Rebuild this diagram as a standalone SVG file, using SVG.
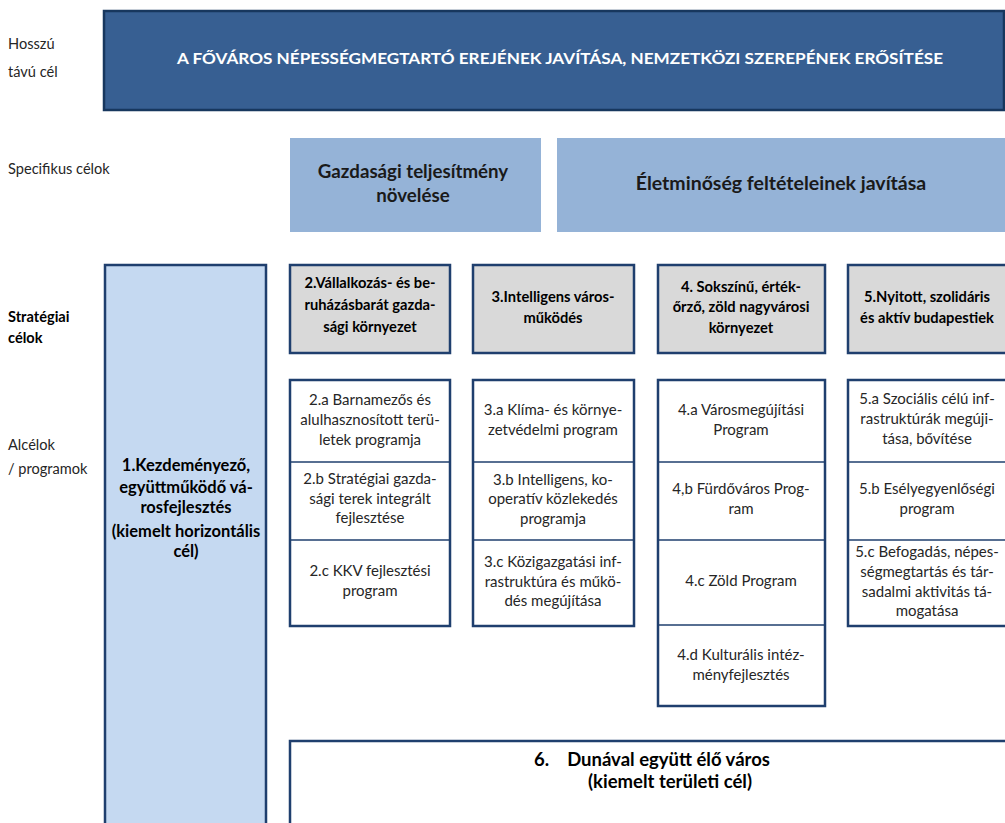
<svg xmlns="http://www.w3.org/2000/svg" width="1005" height="823" viewBox="0 0 1005 823">
<style>
text{font-family:Lato,"Open Sans","Liberation Sans",sans-serif;fill:#262626}
.lbl{font-size:14.6px}
.lblb{font-size:14.6px;font-weight:bold;fill:#000}
.prog{font-size:15px;text-anchor:middle}
.strat{font-size:14.7px;font-weight:bold;text-anchor:middle;fill:#000}
.big{font-size:16.5px;font-weight:bold;text-anchor:middle;fill:#000}
.spec{font-size:18.7px;font-weight:bold;text-anchor:middle;fill:#1a1a1a}
.title{font-size:16px;font-weight:bold;text-anchor:middle;fill:#fff}
.bx{stroke:#1F3F6E;stroke-width:2.5}
.grey{fill:#D9D9D9}
.white{fill:#fff}
.cell{stroke:#1F3F6E;stroke-width:1.5}
</style>
<rect width="1005" height="823" fill="#fff"/>
<g id="row-labels">
<text class="lbl" x="8" y="49">Hosszú</text>
<text class="lbl" x="8" y="77">távú cél</text>
<text class="lbl" x="8" y="174">Specifikus célok</text>
<text class="lblb" x="8" y="322">Stratégiai</text>
<text class="lblb" x="8" y="343">célok</text>
<text class="lbl" x="8" y="450">Alcélok</text>
<text class="lbl" x="8" y="474">/ programok</text>
</g>
<g id="long-term">
<rect x="104" y="11" width="900" height="99" fill="#375F92" stroke="#17375E" stroke-width="2.5"/>
<text class="title" x="560" y="64" textLength="766" lengthAdjust="spacingAndGlyphs">A FŐVÁROS NÉPESSÉGMEGTARTÓ EREJÉNEK JAVÍTÁSA, NEMZETKÖZI SZEREPÉNEK ERŐSÍTÉSE</text>
</g>
<g id="spec-1">
<rect x="290" y="138" width="251" height="94" fill="#95B3D7"/>
<text class="spec" x="413" y="178">Gazdasági teljesítmény</text>
<text class="spec" x="413" y="202">növelése</text>
</g>
<g id="spec-2">
<rect x="557" y="138" width="448" height="94" fill="#95B3D7"/>
<text class="spec" x="781" y="190" style="font-size:19.5px">Életminőség feltételeinek javítása</text>
</g>
<g id="goal-1">
<rect x="105" y="265" width="161" height="570" fill="#C5D9F1" class="bx"/>
<text class="big" x="186" y="471">1.Kezdeményező,</text>
<text class="big" x="186" y="493">együttműködő vá-</text>
<text class="big" x="186" y="513">rosfejlesztés</text>
<text class="big" x="186" y="537">(kiemelt horizontális</text>
<text class="big" x="186" y="557">cél)</text>
</g>
<g id="goal-2">
<rect x="290" y="265" width="160" height="88" class="bx grey"/>
<text class="strat" x="370" y="288">2.Vállalkozás- és be-</text>
<text class="strat" x="370" y="310">ruházásbarát gazda-</text>
<text class="strat" x="370" y="332">sági környezet</text>
</g>
<g id="goal-3">
<rect x="473" y="265" width="161" height="88" class="bx grey"/>
<text class="strat" x="553" y="302">3.Intelligens város-</text>
<text class="strat" x="553" y="323">működés</text>
</g>
<g id="goal-4">
<rect x="658" y="265" width="167" height="88" class="bx grey"/>
<text class="strat" x="741" y="292">4. Sokszínű, érték-</text>
<text class="strat" x="741" y="312">őrző, zöld nagyvárosi</text>
<text class="strat" x="741" y="333">környezet</text>
</g>
<g id="goal-5">
<rect x="848" y="265" width="162" height="88" class="bx grey"/>
<text class="strat" x="927" y="302">5.Nyitott, szolidáris</text>
<text class="strat" x="927" y="323">és aktív budapestiek</text>
</g>
<g id="prog-2">
<rect x="290" y="380" width="160" height="246" class="bx white"/>
<line x1="290" y1="462" x2="450" y2="462" class="cell"/>
<line x1="290" y1="540" x2="450" y2="540" class="cell"/>
<text class="prog" x="370" y="405">2.a Barnamezős és</text>
<text class="prog" x="370" y="425">alulhasznosított terü-</text>
<text class="prog" x="370" y="445">letek programja</text>
<text class="prog" x="370" y="484">2.b Stratégiai gazda-</text>
<text class="prog" x="370" y="504">sági terek integrált</text>
<text class="prog" x="370" y="523">fejlesztése</text>
<text class="prog" x="370" y="576">2.c KKV fejlesztési</text>
<text class="prog" x="370" y="596">program</text>
</g>
<g id="prog-3">
<rect x="473" y="380" width="161" height="246" class="bx white"/>
<line x1="473" y1="462" x2="634" y2="462" class="cell"/>
<line x1="473" y1="540" x2="634" y2="540" class="cell"/>
<text class="prog" x="553" y="415">3.a Klíma- és környe-</text>
<text class="prog" x="553" y="435">zetvédelmi program</text>
<text class="prog" x="553" y="485">3.b Intelligens, ko-</text>
<text class="prog" x="553" y="504">operatív közlekedés</text>
<text class="prog" x="553" y="524">programja</text>
<text class="prog" x="553" y="567">3.c Közigazgatási inf-</text>
<text class="prog" x="553" y="587">rastruktúra és műkö-</text>
<text class="prog" x="553" y="606">dés megújítása</text>
</g>
<g id="prog-4">
<rect x="658" y="380" width="167" height="326" class="bx white"/>
<line x1="658" y1="462" x2="825" y2="462" class="cell"/>
<line x1="658" y1="540" x2="825" y2="540" class="cell"/>
<line x1="658" y1="625" x2="825" y2="625" class="cell"/>
<text class="prog" x="741" y="415">4.a Városmegújítási</text>
<text class="prog" x="741" y="435">Program</text>
<text class="prog" x="741" y="494">4,b Fürdőváros Prog-</text>
<text class="prog" x="741" y="514">ram</text>
<text class="prog" x="741" y="586">4.c Zöld Program</text>
<text class="prog" x="741" y="660">4.d Kulturális intéz-</text>
<text class="prog" x="741" y="680">ményfejlesztés</text>
</g>
<g id="prog-5">
<rect x="848" y="380" width="162" height="246" class="bx white"/>
<line x1="848" y1="462" x2="1010" y2="462" class="cell"/>
<line x1="848" y1="540" x2="1010" y2="540" class="cell"/>
<text class="prog" x="927" y="404">5.a Szociális célú inf-</text>
<text class="prog" x="927" y="424">rastruktúrák megúji-</text>
<text class="prog" x="927" y="444">tása, bővítése</text>
<text class="prog" x="927" y="494">5.b Esélyegyenlőségi</text>
<text class="prog" x="927" y="514">program</text>
<text class="prog" x="927" y="557">5.c Befogadás, népes-</text>
<text class="prog" x="927" y="577">ségmegtartás és tár-</text>
<text class="prog" x="927" y="597">sadalmi aktivitás tá-</text>
<text class="prog" x="927" y="616">mogatása</text>
</g>
<g id="goal-6">
<rect x="290" y="741" width="725" height="100" class="bx white"/>
<text class="strat" x="652" y="766" style="font-size:18.5px;white-space:pre" xml:space="preserve">6.    Dunával együtt élő város</text>
<text class="strat" x="670" y="788" style="font-size:18.5px">(kiemelt területi cél)</text>
</g>
<g id="connectors"/>
</svg>
